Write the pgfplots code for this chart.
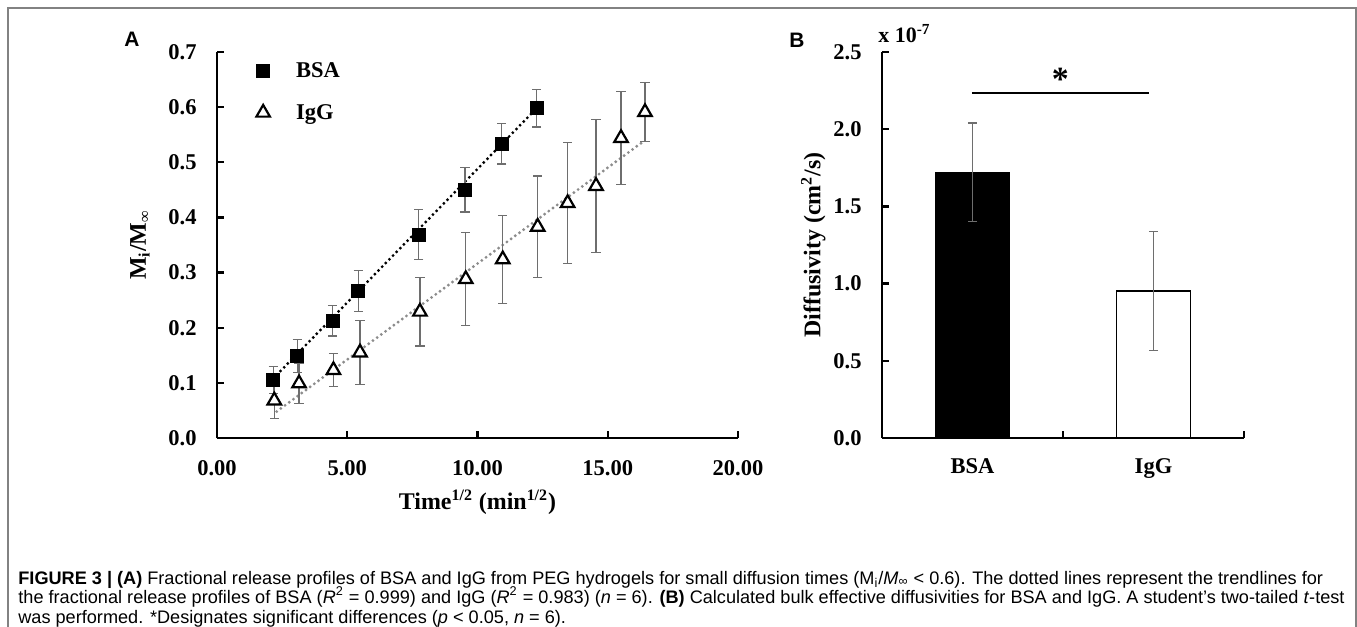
\documentclass[border=0pt]{standalone}
\usepackage{fontspec}
\setmainfont{Liberation Serif}
\newfontfamily\capfont{Liberation Sans}
\usepackage{pgfplots}
\pgfplotsset{compat=1.18}
\usetikzlibrary{calc}

\definecolor{framegray}{RGB}{130,130,130}
\definecolor{errgray}{RGB}{110,110,110}
\definecolor{lingray}{RGB}{140,140,140}

\newcommand\tickfont{\bfseries\fontsize{11.3}{13}\selectfont}
\newcommand\labfont{\bfseries\fontsize{12}{14}\selectfont}
\newcommand\capsize{\capfont\fontsize{9.1}{10}\selectfont}

\pgfplotsset{
  panel/.style={
    scale only axis,
    clip=false,
    axis lines=left,
    axis line style={-, line width=1.2bp},
    tick align=inside,
    major tick length=3.5bp,
    tick style={line width=1.2bp, black},
    /pgf/number format/assume math mode=true,
    tick label style={font=\tickfont},
    label style={font=\labfont},
    yticklabel style={inner sep=0pt, anchor=east, xshift=-10bp},
    xticklabel style={inner sep=0pt, anchor=north, yshift=-11bp},
  },
  ebars/.style={
    error bars/.cd, y dir=both, y explicit,
    error bar style={draw=errgray, line width=0.6bp},
    error mark options={draw=errgray, line width=0.6bp, mark size=2.3bp, rotate=90},
  },
}

\begin{document}
\begin{tikzpicture}
\path[use as bounding box] (0,0) rectangle (678.5bp,313.5bp);
\draw[framegray, line width=1bp] (3.75bp,-2bp) -- (3.75bp,309.5bp) -- (677.75bp,309.5bp) -- (677.75bp,-2bp);

% panel A: fractional release
\begin{axis}[panel, name=A,
    at={(108.5bp,94.5bp)}, anchor=south west,
    width=260.5bp, height=193bp,
    xmin=0, xmax=20, ymin=0, ymax=0.7,
    xtick={0,5,10,15,20},
    ytick={0,0.1,0.2,0.3,0.4,0.5,0.6,0.7},
    xticklabel style={/pgf/number format/fixed, /pgf/number format/fixed zerofill, /pgf/number format/precision=2},
    yticklabel style={/pgf/number format/fixed, /pgf/number format/fixed zerofill, /pgf/number format/precision=1},
    xlabel={Time\textsuperscript{1/2} (min\textsuperscript{1/2})},
    ylabel={M\textsubscript{i}/M\textsubscript{∞}},
    xlabel style={at={(axis description cs:0.5,-0.166)}, anchor=center},
    ylabel style={at={(axis description cs:-0.148,0.5)}, anchor=center},
    legend style={at={(axis cs:1.45,0.681)}, anchor=north west, draw=none, fill=none,
      inner sep=0pt, row sep=12bp, font=\tickfont,
      nodes={inner sep=0pt, anchor=base west}},
    legend image code/.code={\draw[#1] plot coordinates {(4bp,0.35em)}; \path[draw=none, fill=none] (0bp,0bp) -- (20.5bp,0bp);},
    legend cell align=left,
  ]
  \addplot[forget plot, black, line width=1.6bp, line cap=round, dash pattern=on 0bp off 2.6bp]
    coordinates {(2.16,0.108) (12.27,0.598)};
  \addplot[forget plot, lingray, line width=1.6bp, line cap=round, dash pattern=on 0bp off 2.6bp]
    coordinates {(2.29,0.048) (16.43,0.540)};
  \addplot[only marks, mark=square*, mark size=3.25bp, mark options={fill=black, draw=black, solid}, ebars]
    coordinates {
      (2.16,0.105) +- (0,0.025)
      (3.08,0.149) +- (0,0.030)
      (4.43,0.213) +- (0,0.028)
      (5.42,0.267) +- (0,0.037)
      (7.75,0.369) +- (0,0.045)
      (9.52,0.450) +- (0,0.040)
      (10.93,0.534) +- (0,0.037)
      (12.27,0.598) +- (0,0.034)
    };
  \addplot[only marks, mark=triangle*, mark size=3.9bp, mark options={fill=white, draw=black, line width=1.1bp, solid}, ebars]
    coordinates {
      (2.20,0.068) +- (0,0.032)
      (3.15,0.099) +- (0,0.036)
      (4.47,0.123) +- (0,0.030)
      (5.49,0.155) +- (0,0.058)
      (7.79,0.229) +- (0,0.062)
      (9.55,0.288) +- (0,0.084)
      (10.97,0.324) +- (0,0.080)
      (12.31,0.383) +- (0,0.092)
      (13.46,0.426) +- (0,0.110)
      (14.55,0.457) +- (0,0.120)
      (15.51,0.544) +- (0,0.084)
      (16.43,0.591) +- (0,0.053)
    };
  \legend{BSA, IgG}
\end{axis}

% panel B: diffusivity
\begin{axis}[panel, name=B,
    at={(441bp,94.5bp)}, anchor=south west,
    width=181bp, height=193bp,
    xmin=0, xmax=2, ymin=0, ymax=2.5,
    xtick={0,1,2}, xticklabels={},
    extra x ticks={0.5,1.5}, extra x tick labels={BSA,IgG},
    extra x tick style={major tick length=0pt, xticklabel style={yshift=1bp}},
    ytick={0,0.5,1,1.5,2,2.5},
    yticklabel style={/pgf/number format/fixed, /pgf/number format/fixed zerofill, /pgf/number format/precision=1},
    ylabel={Diffusivity (cm\textsuperscript{2}/s)},
    ylabel style={at={(axis description cs:-0.19,0.5)}, anchor=center},
  ]
  \addplot[ybar, bar width=37bp, bar shift=0pt, fill=black, draw=black, line width=0.9bp, ebars]
    coordinates {(0.5,1.72) +- (0,0.32)};
  \addplot[ybar, bar width=37bp, bar shift=0pt, fill=white, draw=black, line width=0.9bp, ebars]
    coordinates {(1.5,0.95) +- (0,0.385)};
  \draw[black, line width=1bp] (axis cs:0.497,2.235) -- (axis cs:1.475,2.235);
  \node[font=\fontsize{17}{19}\selectfont\bfseries, inner sep=0pt] at (axis cs:0.985,2.325) {*};
\end{axis}

\node[anchor=west, inner sep=0pt, font=\fontsize{11}{12}\selectfont\bfseries] at ($(B.north west)+(-2bp,9bp)$) {x 10\textsuperscript{-7}};

\node[font=\capfont\bfseries\fontsize{10.5}{12}\selectfont, inner sep=0pt] at (66bp,294bp) {A};
\node[font=\capfont\bfseries\fontsize{10.5}{12}\selectfont, inner sep=0pt] at (398.5bp,293.5bp) {B};

\node[anchor=base west, inner sep=0pt, font=\capsize] at (9bp,21.5bp)
  {\textbf{FIGURE 3 | (A)} Fractional release profiles of BSA and IgG from PEG hydrogels for small diffusion times (M\textsubscript{i}/\textit{M}\textsubscript{∞} < 0.6). The dotted lines represent the trendlines for};
\node[anchor=base west, inner sep=0pt, font=\capsize] at (9bp,11.7bp)
  {the fractional release profiles of BSA (\textit{R}\textsuperscript{2} = 0.999) and IgG (\textit{R}\textsuperscript{2} = 0.983) (\textit{n} = 6). \textbf{(B)} Calculated bulk effective diffusivities for BSA and IgG. A student’s two-tailed \textit{t}-test};
\node[anchor=base west, inner sep=0pt, font=\capsize] at (9bp,2bp)
  {was performed. *Designates significant differences (\textit{p} < 0.05, \textit{n} = 6).};
\end{tikzpicture}
\end{document}
